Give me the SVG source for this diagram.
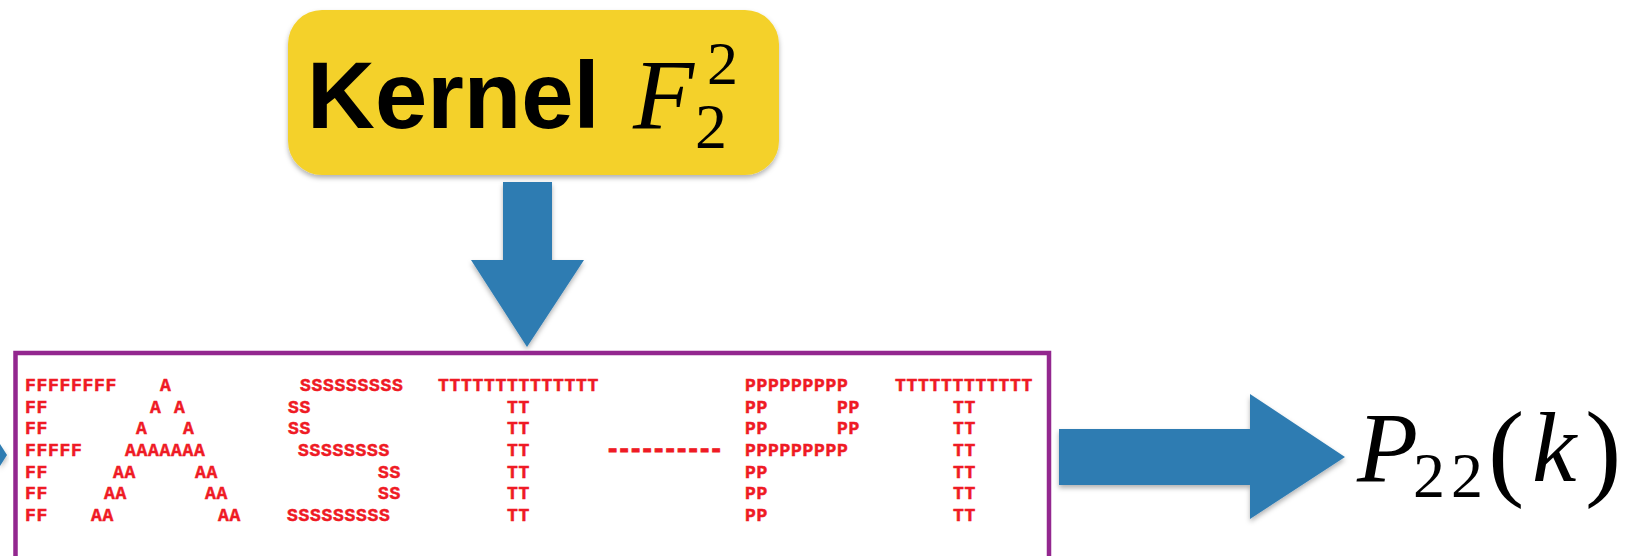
<svg xmlns="http://www.w3.org/2000/svg" width="1638" height="556" viewBox="0 0 1638 556">
<defs>
<filter id="sh" x="-20%" y="-20%" width="140%" height="150%">
<feDropShadow dx="0" dy="3" stdDeviation="2.5" flood-color="#000" flood-opacity="0.3"/>
</filter>
<style>
.arrow{fill:#2f7cb2;filter:url(#sh)}
.ascii{font-family:"Liberation Mono",monospace;font-weight:bold;font-size:18px;letter-spacing:0.7px;fill:#ef1a24;stroke:#ef1a24;stroke-width:0.5px}
.math{font-family:"Liberation Serif","Times New Roman",serif;fill:#000}
</style>
</defs>
<rect width="1638" height="556" fill="#fff"/>

<g id="connectors">
<polygon class="arrow" points="503,182 552,182 552,260 584,260 527,347 471,260 503,260"/>
<polygon class="arrow" points="1059,429 1250,429 1250,394 1345,457 1250,519 1250,485 1059,485"/>
<polygon class="arrow" points="0,444 7,455 0,466"/>
</g>

<g id="kernel">
<rect x="288" y="10" width="491" height="165" rx="34" ry="34" fill="#f4d12c" filter="url(#sh)"/>
<text x="307" y="128" font-family="Liberation Sans, Arial, sans-serif" font-weight="bold" font-size="94" fill="#000">Kernel</text>
<text class="math" x="633" y="128" font-size="100" font-style="italic">F</text>
<text class="math" x="707" y="84" font-size="62">2</text>
<text class="math" x="695" y="148" font-size="64">2</text>
</g>

<g id="fastpt">
<rect x="15.5" y="353" width="1033.5" height="260" fill="none" stroke="#93278f" stroke-width="4.5"/>
<text class="ascii" y="390.5"><tspan x="25">FFFFFFFF</tspan><tspan x="160">A</tspan><tspan x="300">SSSSSSSSS</tspan><tspan x="438">TTTTTTTTTTTTTT</tspan><tspan x="745">PPPPPPPPP</tspan><tspan x="895">TTTTTTTTTTTT</tspan></text>
<text class="ascii" y="412.5"><tspan x="25">FF</tspan><tspan x="150">A</tspan><tspan x="174">A</tspan><tspan x="288">SS</tspan><tspan x="507">TT</tspan><tspan x="745">PP</tspan><tspan x="837">PP</tspan><tspan x="953">TT</tspan></text>
<text class="ascii" y="434"><tspan x="25">FF</tspan><tspan x="136">A</tspan><tspan x="183">A</tspan><tspan x="288">SS</tspan><tspan x="507">TT</tspan><tspan x="745">PP</tspan><tspan x="837">PP</tspan><tspan x="953">TT</tspan></text>
<text class="ascii" y="455.5"><tspan x="25">FFFFF</tspan><tspan x="125">AAAAAAA</tspan><tspan x="298">SSSSSSSS</tspan><tspan x="507">TT</tspan><tspan x="745">PPPPPPPPP</tspan><tspan x="953">TT</tspan></text>
<text class="ascii" transform="translate(605,457.8) scale(1.5,1.6)" x="0" y="0" style="font-size:17px;letter-spacing:-2.53px">----------</text>
<text class="ascii" y="477.5"><tspan x="25">FF</tspan><tspan x="113">AA</tspan><tspan x="195">AA</tspan><tspan x="378">SS</tspan><tspan x="507">TT</tspan><tspan x="745">PP</tspan><tspan x="953">TT</tspan></text>
<text class="ascii" y="499"><tspan x="25">FF</tspan><tspan x="104">AA</tspan><tspan x="205">AA</tspan><tspan x="378">SS</tspan><tspan x="507">TT</tspan><tspan x="745">PP</tspan><tspan x="953">TT</tspan></text>
<text class="ascii" y="520.5"><tspan x="25">FF</tspan><tspan x="91">AA</tspan><tspan x="218">AA</tspan><tspan x="287">SSSSSSSSS</tspan><tspan x="507">TT</tspan><tspan x="745">PP</tspan><tspan x="953">TT</tspan></text>
</g>

<g id="output">
<text class="math" x="1357" y="481" font-size="100" font-style="italic">P</text>
<text class="math" x="1413" y="497" font-size="64" letter-spacing="6">22</text>
<text class="math" x="1488" y="486" font-size="109">(</text>
<text class="math" x="1532" y="481" font-size="100" font-style="italic">k</text>
<text class="math" x="1585" y="486" font-size="109">)</text>
</g>
</svg>
